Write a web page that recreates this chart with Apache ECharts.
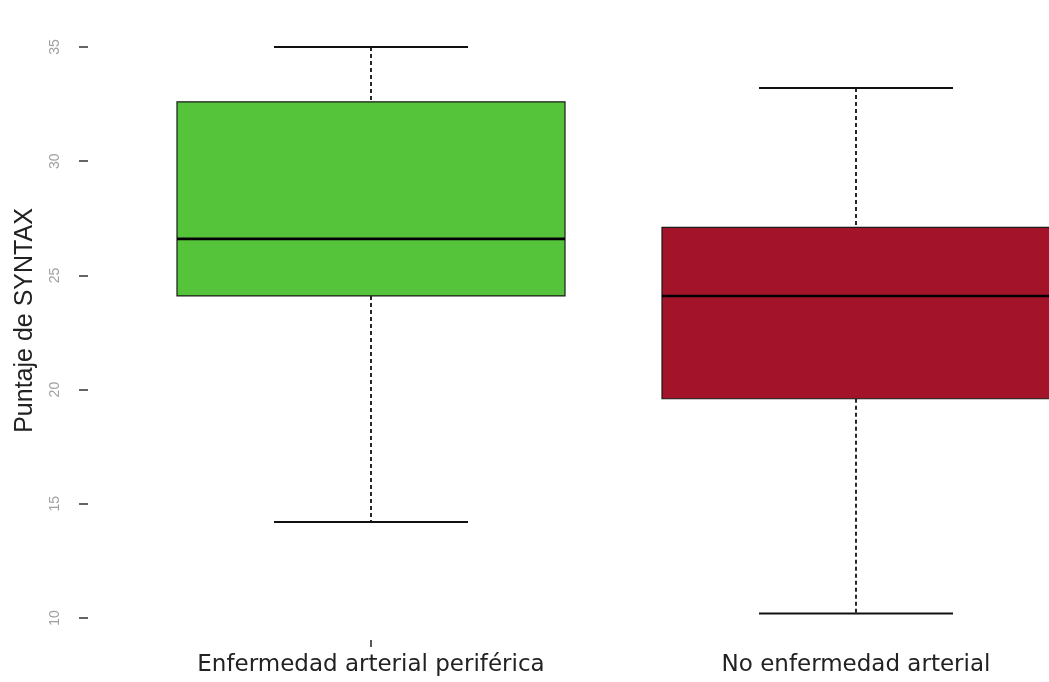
<!DOCTYPE html>
<html>
<head>
<meta charset="utf-8">
<style>
  html, body { margin: 0; padding: 0; background: #ffffff; }
  #chart { width: 1049px; height: 682px; }
</style>
<script src="https://cdn.jsdelivr.net/npm/echarts@6/dist/echarts.min.js"></script>
</head>
<body>
<div id="chart"></div>
<script>
// Groups on the horizontal axis
const categories = ['Enfermedad arterial periférica', 'No enfermedad arterial'];

// Five-number summaries per group: [lower whisker, Q1, median, Q3, upper whisker]
const boxStats = [
  [14.2, 24.1, 26.6, 32.6, 35.0],
  [10.2, 19.6, 24.1, 27.1, 33.2]
];

const boxColors = ['#56c43b', '#a3132a'];

// Y-axis tick labels
const yTicks = [10, 15, 20, 25, 30, 35];

const chart = echarts.init(document.getElementById('chart'), null, { renderer: 'canvas' });

function renderBox(params, api) {
  const i = api.value(0);
  const lo = api.value(1), q1 = api.value(2), med = api.value(3), q3 = api.value(4), hi = api.value(5);
  const band = api.size([1, 0])[0];
  const boxW = band * 0.8;
  const capW = band * 0.4;
  const pLo = api.coord([i, lo]);
  const pQ1 = api.coord([i, q1]);
  const pMed = api.coord([i, med]);
  const pQ3 = api.coord([i, q3]);
  const pHi = api.coord([i, hi]);
  const cx = pMed[0];
  const dash = { stroke: '#111', lineWidth: 1.8, lineDash: [4, 3] };
  const solid = { stroke: '#111', lineWidth: 2 };
  return {
    type: 'group',
    children: [
      { type: 'line', shape: { x1: cx, y1: pHi[1], x2: cx, y2: pQ3[1] }, style: dash },
      { type: 'line', shape: { x1: cx, y1: pQ1[1], x2: cx, y2: pLo[1] }, style: dash },
      { type: 'line', shape: { x1: cx - capW / 2, y1: pHi[1], x2: cx + capW / 2, y2: pHi[1] }, style: solid },
      { type: 'line', shape: { x1: cx - capW / 2, y1: pLo[1], x2: cx + capW / 2, y2: pLo[1] }, style: solid },
      {
        type: 'rect',
        shape: { x: cx - boxW / 2, y: pQ3[1], width: boxW, height: pQ1[1] - pQ3[1] },
        style: { fill: boxColors[i], stroke: '#1a1a1a', lineWidth: 1.2 }
      },
      { type: 'line', shape: { x1: cx - boxW / 2, y1: pMed[1], x2: cx + boxW / 2, y2: pMed[1] }, style: { stroke: '#000', lineWidth: 2.6 } }
    ]
  };
}

const option = {
  backgroundColor: '#ffffff',
  animation: false,
  // the plotting region runs past the right edge of the canvas
  grid: { left: 128.5, width: 970, top: 47, bottom: 64, containLabel: false, outerBoundsMode: 'none' },
  xAxis: {
    type: 'category',
    data: categories,
    boundaryGap: true,
    offset: 22,
    axisLine: { show: false },
    axisTick: {
      show: true,
      alignWithLabel: true,
      length: 7,
      interval: function (idx) { return idx === 0; },
      lineStyle: { color: '#222', width: 1.5 }
    },
    axisLabel: {
      margin: 14,
      interval: 0,
      color: '#222',
      fontFamily: 'DejaVu Sans',
      fontSize: 23
    },
    splitLine: { show: false }
  },
  yAxis: {
    type: 'value',
    min: yTicks[0],
    max: yTicks[yTicks.length - 1],
    interval: 5,
    offset: 40.5,
    name: 'Puntaje de SYNTAX',
    nameLocation: 'middle',
    nameGap: 50,
    nameRotate: 90,
    nameTextStyle: { color: '#222', fontFamily: 'Liberation Sans', fontSize: 25, padding: [0, 0, 0, 24] },
    axisLine: { show: false },
    axisTick: { show: true, length: 9, lineStyle: { color: '#333', width: 1.5 } },
    axisLabel: {
      rotate: 90,
      margin: 26,
      color: '#a0a0a0',
      fontFamily: 'Liberation Sans',
      fontSize: 14
    },
    splitLine: { show: false }
  },
  series: [{
    type: 'custom',
    renderItem: renderBox,
    clip: false,
    encode: { x: 0, y: [1, 2, 3, 4, 5] },
    data: boxStats.map((s, i) => [i].concat(s))
  }]
};

chart.setOption(option);
</script>
</body>
</html>
